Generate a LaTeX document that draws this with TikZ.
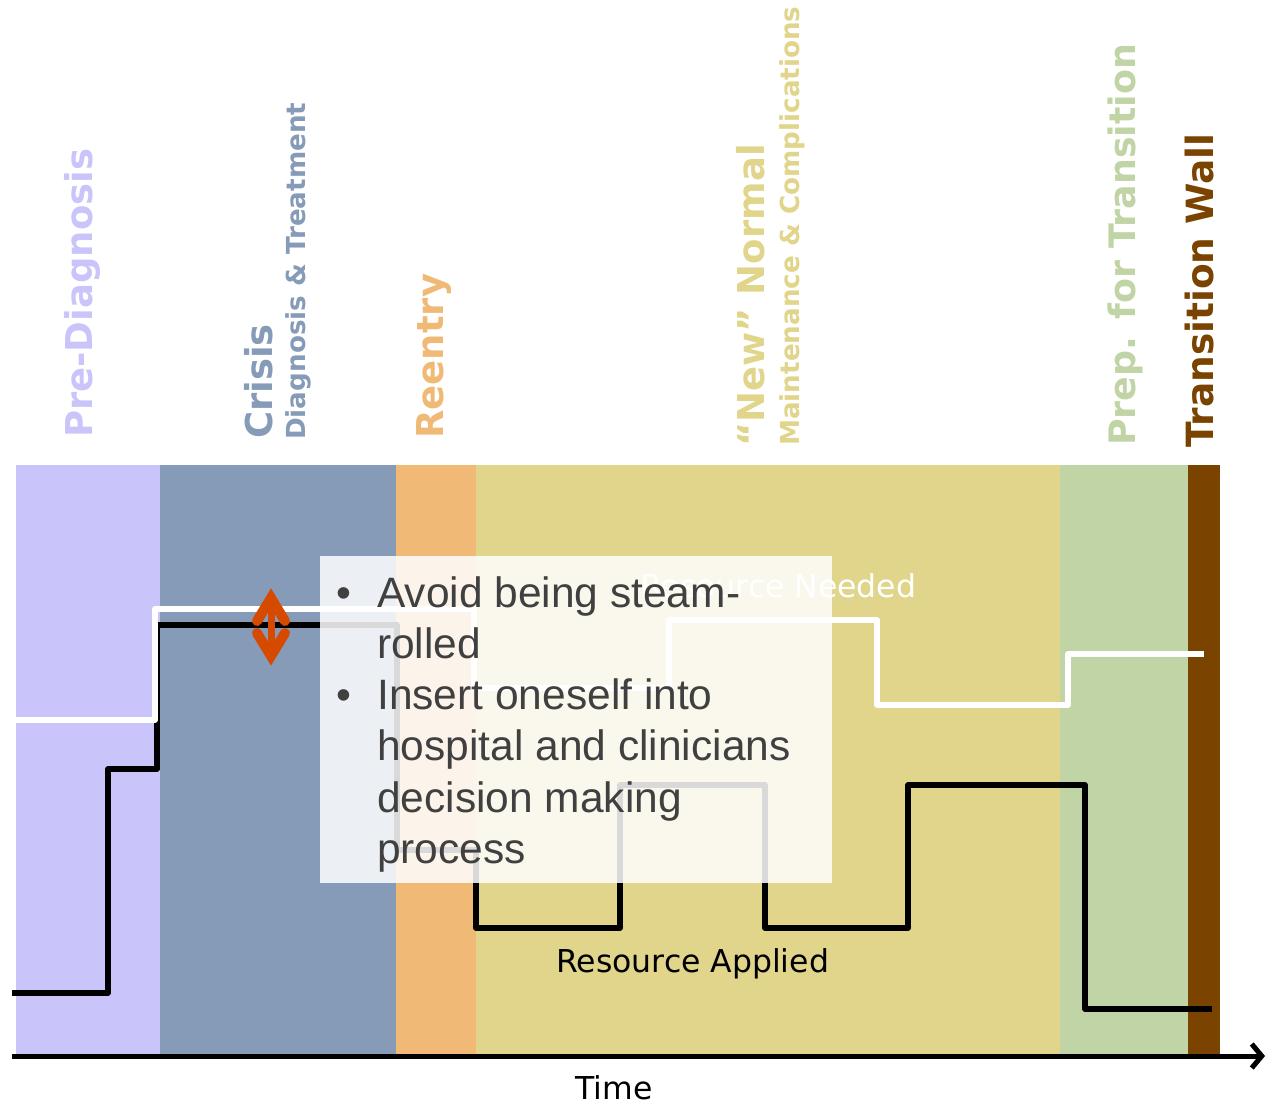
\documentclass[tikz,border=0pt]{standalone}
\usepackage{fontspec}
\setmainfont{Liberation Sans}
\newfontfamily\dejavu{DejaVu Sans}
\usetikzlibrary{arrows.meta}

\definecolor{cPre}{HTML}{C9C5FA}
\definecolor{cCrisis}{HTML}{869BB7}
\definecolor{cReentry}{HTML}{F0BA76}
\definecolor{cNormal}{HTML}{E0D58B}
\definecolor{cPrep}{HTML}{C0D4A5}
\definecolor{cWall}{HTML}{7A4300}
\definecolor{cArrow}{HTML}{D64A00}
\definecolor{cText}{HTML}{404040}

\begin{document}
\begin{tikzpicture}[x=1pt,y=-1pt,
  phase/.style={rotate=90, anchor=base west, inner sep=0pt,
    font=\dejavu\bfseries\fontsize{37}{37}\selectfont},
  subphase/.style={rotate=90, anchor=base west, inner sep=0pt,
    font=\dejavu\bfseries\fontsize{26.2}{26.2}\selectfont},
  steps/.style={line width=5.5pt, line join=round},
  plain/.style={inner sep=0pt, font=\dejavu\fontsize{31.5}{31.5}\selectfont},
  bul/.style={inner sep=0pt, anchor=base west, text=cText,
    font=\fontsize{42.5}{42.5}\selectfont},
]
\useasboundingbox (0,0) rectangle (1268,1102);

% phase bands
\fill[cPre]     (16,465)   rectangle (160,1055);
\fill[cCrisis]  (160,465)  rectangle (396,1055);
\fill[cReentry] (396,465)  rectangle (476,1055);
\fill[cNormal]  (476,465)  rectangle (1060,1055);
\fill[cPrep]    (1060,465) rectangle (1188,1055);
\fill[cWall]    (1188,465) rectangle (1220,1055);

% phase headings
\node[phase, text=cPre]     (hPre)    at (92,438)   {Pre-Diagnosis};
\node[phase, text=cCrisis]  (hCrisis) at (272,439)  {Crisis};
\node[subphase, text=cCrisis] (sCrisis) at (305,440) {Diagnosis \& Treatment};
\node[phase, text=cReentry] (hRe)     at (443,439)  {Reentry};
\node[phase, text=cNormal]  (hNorm)   at (764,447)  {“New” Normal};
\node[subphase, text=cNormal] (sNorm) at (799,446)  {Maintenance \& Complications};
\node[phase, text=cPrep, font=\dejavu\bfseries\fontsize{36.4}{36.4}\selectfont]
  (hPrep) at (1135,446) {Prep. for Transition};
\node[phase, text=cWall, font=\dejavu\bfseries\fontsize{37.5}{37.5}\selectfont]
  (hWall) at (1213,448) {Transition Wall};

% resource applied (black) and resource needed (white)
\draw[steps, black] (12,993) -| (108,769) -| (157,625) -| (397,850)
  -| (476,928) -| (620,785) -| (765,928) -| (908,785) -| (1085,1009)
  -- (1212,1009);
\draw[steps, white] (16,720) -| (155,609) -| (474,688) -| (669,620)
  -| (877,705) -| (1068,654) -- (1204,654);

\node[plain, anchor=base west, text=white] (need) at (640,597) {Resource Needed};
\node[plain, anchor=base west, text=black] (applied) at (556,972) {Resource Applied};

% time axis
\coordinate (t0) at (12,1056);
\coordinate (t1) at (1265,1056);
\draw[line width=5pt, -{Straight Barb[length=10pt,width=24pt]}] (t0) -- (t1);
\node[plain, anchor=base, text=black] (time) at (614,1099) {Time};

% two-way squeeze arrow
\draw[cArrow, line width=7pt] (271,600) -- (271,654);
\draw[cArrow, line width=10pt, line cap=round, line join=miter]
  (257,621) -- (271,598) -- (285,621);
\draw[cArrow, line width=10pt, line cap=round, line join=miter]
  (257,633) -- (271,656) -- (285,633);

% callout panel
\fill[white, opacity=0.85] (320,556) rectangle (832,883);
\node[bul] (b1) at (336,607) {\textbullet};
\node[bul] (l1) at (377,607) {Avoid being steam-};
\node[bul] (l2) at (377,658) {rolled};
\node[bul] (b2) at (336,709) {\textbullet};
\node[bul] (l3) at (377,709) {Insert oneself into};
\node[bul] (l4) at (377,760) {hospital and clinicians};
\node[bul] (l5) at (377,812) {decision making};
\node[bul] (l6) at (377,863) {process};
\end{tikzpicture}
\end{document}
